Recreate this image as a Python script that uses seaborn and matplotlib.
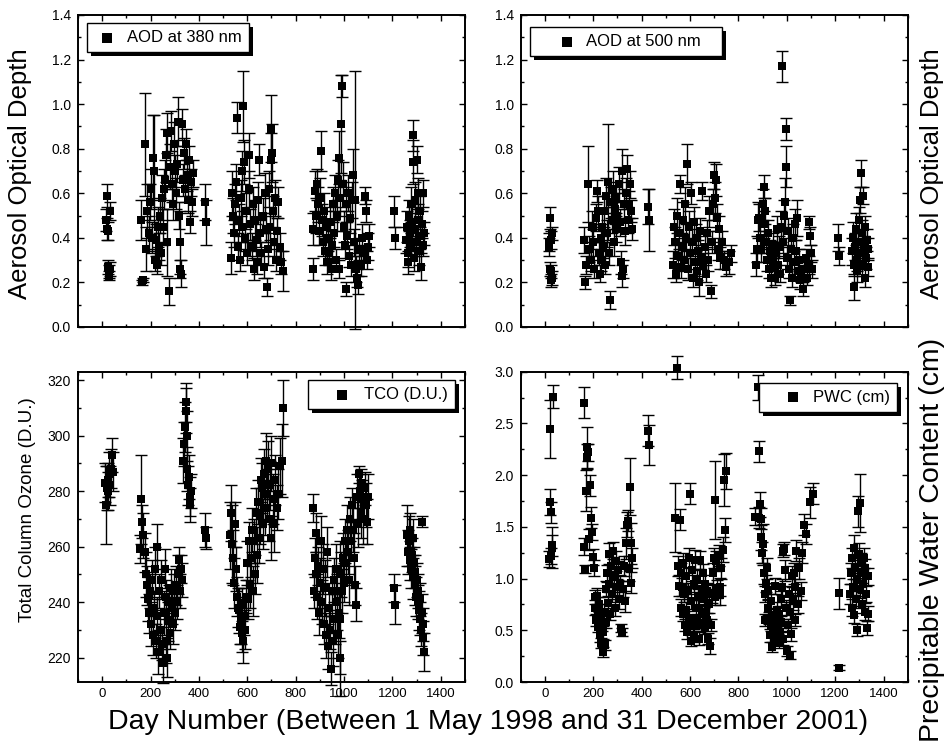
import matplotlib
matplotlib.use("Agg")
import numpy as np
import pandas as pd
import seaborn as sns
import matplotlib.pyplot as plt
from matplotlib import font_manager
from matplotlib.ticker import MultipleLocator, FormatStrFormatter
from matplotlib.patches import Rectangle

# ---------------- data ----------------
# Panel 1: AOD at 380 nm
day_380 = [16, 18, 20, 22, 33, 26, 28, 30, 32,
           160, 164, 168, 177, 182, 187, 192, 197, 202, 207,
           211, 214, 218, 222, 226, 230, 234, 238, 242, 246,
           250, 254, 258, 262, 266, 270, 276, 280, 284, 288,
           292, 296, 300, 304, 308, 312, 316, 320, 323, 326,
           330, 334, 338, 342, 346, 350, 354, 358, 362, 366,
           370, 375,
           425, 430,
           532, 536, 540, 544, 548, 552, 556, 560, 564, 568,
           572, 576, 580, 584, 588, 592, 596, 600, 605, 609,
           613, 618, 622, 627, 632, 636, 641, 645, 650, 654,
           658, 663, 668, 672, 676, 680, 684, 688, 692, 696,
           699, 702, 706, 710, 714, 718, 722, 728, 734, 740,
           746,
           870, 873, 880, 885, 889, 893, 897, 901, 906, 910,
           914, 918, 922, 926, 930, 934, 938, 942, 947, 951,
           955, 959, 963, 967, 971, 975, 978, 981, 985, 989,
           992, 995, 999, 1003, 1007, 1009, 1013, 1017, 1021, 1025,
           1029, 1033, 1037, 1041, 1047, 1050, 1054, 1058, 1062, 1068,
           1074, 1080, 1088, 1092, 1096, 1100, 1105,
           1208, 1212,
           1256, 1260, 1263, 1266, 1269, 1272, 1275, 1278, 1281, 1284,
           1286, 1289, 1292, 1295, 1298, 1301, 1304, 1307, 1310, 1313,
           1316, 1319, 1322, 1325, 1328, 1331]
aod_380 = [.48, .44, .59, .43, .52, .27, .25, .23, .26,
           .48, .20, .21, .82, .35, .52, .42, .56, .62, .40,
           .76, .70, .30, .39, .28, .45, .36, .50, .33, .58,
           .45, .62, .66, .77, .87, .38, .16, .72, .88, .64,
           .55, .82, .70, .60, .73, .92, .50, .38, .26, .24,
           .91, .66, .78, .62, .82, .68, .57, .75, .47, .65,
           .56, .69,
           .56, .47,
           .31, .60, .50, .42, .55, .65, .94, .36, .48, .30,
           .58, .45, .70, .99, .74, .40, .52, .33, .62, .77,
           .46, .36, .55, .26, .48, .39, .29, .57, .75, .42,
           .33, .50, .27, .60, .44, .18, .35, .62, .45, .89,
           .75, .78, .52, .38, .58, .30, .43, .56, .36, .29,
           .25,
           .26, .44, .61, .50, .64, .55, .43, .58, .79, .48,
           .38, .52, .34, .45, .29, .40, .33, .47, .26, .37,
           .55, .42, .60, .30, .50, .66, .76, .26, .58, .91,
           1.08, .64, .45, .37, .55, .17, .41, .60, .32, .49,
           .28, .57, .68, .38, .57, .26, .22, .19, .35, .28,
           .40, .33, .59, .52, .30, .36, .41,
           .52, .40,
           .39, .45, .33, .29, .50, .42, .36, .55, .47, .86,
           .74, .31, .44, .57, .38, .75, .60, .48, .34, .52,
           .41, .27, .46, .37, .60, .42]
err_380 = [.05, .05, .05, .04, .04, .03, .03, .02, .03,
           .09, .01, .01, .23, .10, .12, .08, .08, .09, .07,
           .19, .25, .05, .07, .04, .09, .06, .08, .05, .10,
           .08, .09, .09, .12, .09, .15, .06, .10, .09, .08,
           .07, .10, .07, .07, .08, .11, .06, .14, .04, .06,
           .07, .07, .07, .06, .07, .07, .06, .06, .05, .06,
           .06, .06,
           .08, .10,
           .07, .10, .08, .06, .09, .08, .07, .06, .07, .05,
           .08, .07, .09, .16, .10, .06, .08, .05, .08, .10,
           .07, .06, .08, .05, .09, .07, .05, .08, .07, .06,
           .05, .08, .05, .09, .06, .04, .07, .08, .06, .15,
           .12, .13, .07, .06, .08, .05, .06, .07, .06, .05,
           .09,
           .05, .07, .09, .08, .07, .08, .06, .09, .09, .07,
           .06, .08, .06, .07, .05, .06, .05, .07, .05, .06,
           .08, .06, .08, .05, .07, .09, .12, .04, .08, .22,
           .05, .10, .07, .06, .08, .03, .06, .08, .05, .07,
           .05, .08, .12, .06, .58, .06, .04, .04, .05, .05,
           .06, .04, .04, .05, .04, .06, .05,
           .07, .05,
           .06, .07, .06, .05, .07, .06, .06, .08, .07, .07,
           .10, .06, .07, .08, .06, .06, .07, .07, .06, .07,
           .06, .06, .06, .05, .06, .05]

# Panel 2: AOD at 500 nm
day_500 = [15, 18, 21, 24, 28, 22, 25, 27, 30,
           160, 165, 170, 179, 184, 190, 196, 200, 205, 210,
           214, 218, 222, 226, 230, 234, 238, 242, 246, 250,
           254, 258, 262, 265, 268, 272, 276, 280, 284, 288,
           292, 296, 300, 305, 310, 314, 317, 320, 323, 327,
           331, 335, 340, 344, 348, 352, 356, 360,
           425, 430,
           531, 535, 539, 543, 547, 551, 555, 559, 563, 567,
           571, 575, 579, 583, 589, 593, 597, 601, 605, 609,
           613, 617, 621, 625, 629, 633, 637, 641, 645, 650,
           655, 660, 665, 670, 675, 680, 685, 690, 695, 700,
           704, 708, 712, 716, 720, 726, 732, 740, 748, 760,
           770,
           872, 876, 880, 886, 890, 895, 900, 904, 907, 911,
           915, 919, 923, 927, 931, 935, 939, 943, 947, 951,
           955, 959, 963, 967, 971, 975, 979, 983, 987, 991,
           995, 997, 1000, 1004, 1008, 1014, 1018, 1022, 1026, 1030,
           1034, 1038, 1041, 1045, 1050, 1055, 1060, 1066, 1072, 1078,
           1084, 1090, 1094, 1098, 1102, 1106,
           1210, 1214,
           1268, 1272, 1276, 1280, 1283, 1286, 1289, 1292, 1295, 1298,
           1301, 1304, 1307, 1310, 1313, 1316, 1319, 1322, 1325, 1328,
           1331, 1334, 1337]
aod_500 = [.38, .36, .49, .39, .42, .26, .25, .21, .22,
           .39, .20, .28, .64, .35, .30, .45, .38, .26, .49,
           .61, .52, .33, .24, .40, .30, .45, .36, .52, .28,
           .59, .42, .65, .33, .12, .56, .48, .62, .38, .53,
           .44, .58, .50, .64, .47, .29, .70, .23, .26, .55,
           .43, .60, .71, .48, .55, .64, .52, .44,
           .54, .48,
           .28, .45, .38, .24, .50, .32, .42, .64, .27, .36,
           .48, .30, .55, .40, .73, .26, .45, .33, .60, .38,
           .22, .47, .29, .40, .25, .34, .20, .43, .31, .61,
           .28, .36, .24, .42, .30, .52, .16, .38, .55, .68,
           .58, .66, .49, .35, .44, .31, .38, .30, .27, .29,
           .33,
           .28, .35, .48, .49, .40, .35, .55, .46, .63, .52,
           .38, .30, .42, .26, .34, .22, .31, .37, .27, .22,
           .33, .44, .28, .36, .24, .45, 1.17, .38, .50, .56,
           .89, .72, .31, .43, .26, .12, .35, .22, .40, .29,
           .46, .34, .49, .25, .30, .21, .24, .17, .26, .31,
           .22, .28, .47, .41, .33, .26,
           .40, .32,
           .34, .40, .28, .18, .36, .44, .30, .25, .38, .48,
           .33, .57, .69, .42, .28, .59, .36, .22, .45, .31,
           .39, .27, .35]
err_500 = [.04, .04, .05, .04, .03, .03, .03, .03, .03,
           .06, .03, .04, .17, .06, .05, .07, .06, .04, .06,
           .05, .07, .05, .04, .06, .05, .07, .05, .07, .04,
           .08, .06, .26, .05, .04, .07, .06, .08, .06, .07,
           .06, .07, .06, .08, .06, .05, .10, .05, .04, .07,
           .06, .07, .06, .06, .06, .06, .05, .05,
           .08, .14,
           .06, .08, .07, .04, .08, .06, .07, .04, .05, .06,
           .08, .05, .08, .06, .09, .05, .07, .05, .05, .06,
           .04, .07, .05, .06, .04, .05, .06, .06, .05, .04,
           .05, .05, .04, .06, .05, .07, .03, .05, .07, .06,
           .07, .07, .06, .05, .06, .05, .05, .04, .04, .05,
           .04,
           .05, .06, .08, .06, .07, .06, .07, .06, .05, .06,
           .05, .05, .06, .04, .05, .04, .05, .05, .04, .03,
           .05, .06, .04, .05, .04, .07, .07, .05, .07, .11,
           .05, .09, .05, .06, .04, .02, .05, .04, .06, .05,
           .07, .05, .08, .04, .05, .04, .04, .03, .04, .04,
           .03, .04, .03, .04, .04, .04,
           .06, .04,
           .06, .07, .05, .06, .06, .07, .05, .05, .06, .06,
           .05, .06, .06, .06, .05, .04, .05, .04, .05, .05,
           .05, .04, .05]

# Panel 3: Total column ozone (D.U.)
day_tco = [10, 14, 18, 22, 26, 30, 34, 38, 42, 45,
           156, 162, 165, 170, 175, 180, 185, 190, 194, 198,
           202, 206, 210, 214, 218, 222, 225, 228, 232, 236,
           240, 244, 248, 252, 255, 258, 262, 265, 268, 272,
           276, 280, 284, 288, 292, 296, 300, 304, 308, 312,
           316, 320, 324, 330,
           336, 339, 342, 345, 348, 350, 352, 355, 358, 361,
           364, 366,
           425, 430,
           530, 534, 537, 541, 545, 548,
           552, 556, 560, 564, 568, 572, 576, 580, 584, 588, 592, 596,
           600, 604, 608, 612, 616, 620, 624, 628, 632, 636, 640, 644,
           648, 652, 656, 660, 664, 668, 672, 676, 680, 684, 688, 692,
           696, 700, 705, 710, 716, 722, 728, 737, 745, 748,
           870, 874, 878, 882, 886, 890, 894, 898, 902, 906,
           910, 914, 918, 922, 926, 930, 934, 938, 942, 946,
           950, 954, 958, 962, 966, 970, 974, 978, 982, 985,
           988, 992, 996, 1000, 1004, 1008, 1012, 1016, 1020, 1024,
           1028, 1032, 1036, 1040, 1044, 1048, 1052, 1056, 1060, 1064,
           1068, 1072, 1076, 1080, 1085, 1090, 1095, 1100,
           1208, 1212,
           1262, 1265, 1268, 1271, 1274, 1277, 1280, 1283, 1286, 1289,
           1292, 1295, 1298, 1301, 1304, 1307, 1310, 1313, 1316, 1319,
           1322, 1324, 1326, 1328, 1330]
tco = [283, 275, 281, 284, 280, 286, 282, 288, 293, 287,
       259, 277, 269, 264, 258, 250, 246, 241, 236, 244,
       232, 248, 228, 238, 252, 226, 260, 235, 222, 244,
       230, 248, 225, 218, 236, 252, 226, 242, 220, 233,
       240, 229, 245, 238, 232, 244, 236, 246, 240, 250,
       255, 244, 252, 248,
       291, 297, 303, 309, 312, 300, 288, 282, 285, 278,
       275, 280,
       266, 263,
       264, 272, 261, 256, 247, 268,
       252, 242, 238, 237, 231, 233, 229, 239, 226, 235, 230, 242,
       254, 241, 262, 246, 256, 266, 244, 262, 250, 272, 257, 276,
       263, 271, 284, 281, 268, 286, 274, 291, 279, 288, 270, 282,
       263, 290, 277, 268, 284, 274, 279, 289, 291, 310,
       274, 244, 256, 250, 265, 242, 253, 236, 247, 262,
       240, 252, 232, 245, 228, 258, 224, 238, 230, 216,
       244, 226, 248, 234, 252, 240, 228, 236, 220, 234,
       250, 244, 256, 247, 262, 254, 266, 258, 248, 270,
       262, 275, 266, 256, 246, 239, 278, 268, 286, 280,
       272, 283, 277, 270, 281, 275, 269, 278,
       245, 239,
       264, 258, 262, 255, 266, 252, 257, 249, 263, 254,
       246, 251, 242, 248, 240, 244, 237, 241, 234, 230,
       236, 269, 227, 232, 222]
err_tco = [7, 14, 8, 6, 7, 8, 7, 7, 6, 7,
           5, 16, 6, 8, 7, 8, 7, 8, 7, 6,
           8, 7, 7, 6, 8, 6, 8, 7, 8, 6,
           7, 7, 6, 7, 8, 7, 8, 6, 7, 7,
           6, 6, 7, 6, 7, 6, 6, 7, 6, 7,
           5, 6, 5, 6,
           8, 8, 9, 8, 7, 9, 8, 7, 8, 7,
           6, 6,
           6, 4,
           12, 10, 14, 10, 9, 8,
           8, 7, 7, 8, 6, 8, 7, 6, 8, 7, 7, 6,
           8, 7, 7, 8, 7, 8, 9, 8, 7, 9, 10, 8,
           9, 10, 8, 9, 9, 9, 10, 10, 9, 10, 8, 9,
           8, 10, 9, 10, 9, 8, 9, 10, 13, 10,
           5, 6, 7, 8, 7, 8, 7, 8, 9, 9,
           8, 9, 7, 10, 8, 9, 8, 9, 7, 6,
           9, 9, 8, 9, 9, 10, 8, 9, 6, 28,
           8, 8, 9, 7, 8, 8, 9, 8, 9, 8,
           7, 6, 8, 9, 7, 6, 8, 8, 3, 6,
           9, 5, 7, 9, 6, 8, 8, 8,
           5, 7,
           11, 8, 9, 7, 6, 7, 6, 8, 7, 6,
           7, 6, 7, 6, 6, 6, 7, 6, 6, 6,
           7, 2, 6, 6, 7]

# Panel 4: Precipitable water content (cm)
day_pwc = [18, 20, 22, 24, 26, 28, 30, 32,
           160, 163, 166, 170, 173, 176, 180, 184, 188, 192,
           196, 200, 203, 206, 209, 212, 215, 218, 221, 224,
           227, 230, 233, 236, 239, 242, 245, 248, 251, 254,
           257, 260, 263, 266, 270, 274, 278, 282, 286, 290,
           294, 298, 302, 306, 310, 315, 318, 322, 326, 330,
           334, 338, 342, 346, 350, 354, 358, 362,
           428, 432,
           538, 545, 552, 555, 559, 561, 564, 567, 570, 573,
           576, 579, 582, 585, 588, 591, 594, 597, 600, 603,
           606, 609, 612, 615, 618, 621, 624, 627, 630, 633,
           636, 639, 642, 645, 648, 651, 654, 657, 660, 663,
           666, 669, 672, 675, 678, 683, 687, 690, 694, 698,
           702, 705, 709, 713, 719, 722, 726, 730, 741, 744,
           750, 738,
           870, 880, 884, 887, 889, 893, 895, 899, 903, 906,
           909, 912, 915, 918, 921, 924, 927, 930, 933, 936,
           939, 942, 945, 948, 951, 954, 957, 960, 963, 966,
           969, 972, 975, 978, 981, 984, 986, 989, 992, 996,
           1000, 1004, 1008, 1012, 1015, 1018, 1021, 1024, 1028, 1032,
           1036, 1040, 1046, 1052, 1058, 1064, 1070, 1080, 1095, 1110,
           1214, 1216,
           1262, 1265, 1268, 1271, 1274, 1277, 1280, 1283, 1286, 1289,
           1292, 1295, 1298, 1301, 1304, 1307, 1310, 1313, 1316, 1319,
           1322, 1325, 1328, 1331, 1334, 1337]
pwc = [1.19, 2.45, 1.74, 1.64, 1.22, 1.30, 1.32, 2.76,
       2.70, 1.31, 1.09, 1.85, 2.27, 2.18, 2.22, 1.38, 1.90, 1.59,
       1.45, 1.21, 1.10, .82, .72, .60, .83, .65, .53, .75,
       .45, .62, .38, .55, .29, .48, .68, .36, .90, .58,
       1.05, .76, 1.24, .95, .66, 1.12, .85, 1.27, 1.02, .72,
       1.17, .92, 1.08, .80, .95, .52, .48, .90, 1.12, .78,
       1.34, 1.52, 1.56, 1.10, 1.89, 1.34, .96, 1.20,
       2.43, 2.29,
       1.59, 3.04, 1.12, .93, 1.57, 1.05, .72, .92, 1.15, .66,
       .85, .55, 1.02, .70, .48, .88, 1.20, .62, 1.82, .40,
       .78, 1.08, .55, .95, .45, 1.18, .72, .60, 1.00, .82,
       .42, .72, 1.18, .55, .90, .66, 1.05, .80, .52, .95,
       .68, .88, .60, .42, .75, .35, .55, .85, 1.05, 1.20,
       .82, 1.76, 1.17, .90, 1.22, .92, .84, 1.10, 1.95, 1.47,
       2.04, 1.28,
       1.60, 2.85, 1.59, 2.23, 1.72, 1.58, 1.40, 1.25, 1.33, 1.05,
       .60, .85, .95, 1.10, .72, .88, .62, .45, .78, .55,
       .34, .50, .65, .42, .93, .60, .45, .70, .52, .38,
       .66, .48, .80, .58, .92, .42, 1.27, 1.29, 1.08, .72,
       .30, .55, .85, .26, .68, .46, 1.02, .78, 1.05, .60,
       .92, 1.27, .75, 1.10, .88, 1.25, 1.52, 1.43, 1.74, 1.82,
       .86, .14,
       .85, 1.05, .72, 1.20, .92, 1.30, .65, 1.10, .80, 1.00,
       .50, 1.65, 1.24, .90, 1.73, 1.15, .75, 1.05, .95, 1.20,
       .68, 1.10, .85, .52, .66, 1.02]
err_pwc = [.08, .28, .13, .10, .08, .20, .10, .11,
           .15, .08, .04, .20, .20, .12, .08, .10, .10, .10,
           .08, .08, .08, .07, .07, .06, .08, .06, .05, .07,
           .06, .06, .05, .06, .05, .06, .07, .05, .08, .06,
           .08, .07, .10, .08, .06, .09, .08, .08, .10, .08,
           .10, .08, .09, .09, .08, .04, .04, .08, .10, .10,
           .15, .12, .10, .12, .28, .20, .10, .10,
           .15, .19,
           .33, .11, .10, .10, .10, .10, .08, .09, .10, .07,
           .08, .06, .09, .07, .06, .08, .10, .07, .10, .05,
           .07, .10, .06, .08, .06, .10, .07, .06, .09, .08,
           .06, .07, .09, .06, .08, .07, .09, .08, .06, .08,
           .07, .08, .07, .05, .08, .08, .06, .09, .10, .10,
           .08, .38, .10, .09, .10, .09, .10, .10, .25, .12,
           .17, .12,
           .08, .12, .10, .10, .12, .10, .12, .10, .20, .10,
           .06, .08, .08, .10, .07, .08, .06, .06, .07, .06,
           .05, .06, .07, .05, .08, .06, .05, .07, .06, .05,
           .07, .06, .08, .06, .08, .06, .06, .06, .10, .07,
           .05, .06, .08, .04, .07, .06, .10, .08, .10, .06,
           .08, .10, .08, .10, .09, .10, .10, .10, .15, .10,
           .15, .02,
           .10, .10, .08, .10, .08, .12, .08, .10, .08, .10,
           .06, .15, .10, .09, .28, .10, .08, .09, .09, .10,
           .08, .09, .08, .07, .07, .08]

labels = ["AOD at 380 nm", "AOD at 500 nm", "TCO (D.U.)", "PWC (cm)"]
xticks = [0, 200, 400, 600, 800, 1000, 1200, 1400]

# ---------------- style ----------------
sns.set_theme(style="ticks")
names = {f.name for f in font_manager.fontManager.ttflist}
NARROW = "Liberation Sans Narrow" in names
plt.rcParams["font.family"] = ["Liberation Sans", "DejaVu Sans"]
plt.rcParams.update({"text.color": "black", "axes.labelcolor": "black",
                     "xtick.color": "black", "ytick.color": "black",
                     "axes.edgecolor": "black"})
narrow_family = ["Liberation Sans Narrow", "Liberation Sans", "DejaVu Sans"] if NARROW else ["Liberation Sans", "DejaVu Sans"]

fig = plt.figure(figsize=(9.45, 7.52), dpi=100)
W, H = 945.0, 752.0
ax_tl = fig.add_axes([78 / W, 1 - 327 / H, 387 / W, 312 / H])
ax_tr = fig.add_axes([520.7 / W, 1 - 327 / H, 387 / W, 312 / H])
ax_bl = fig.add_axes([78 / W, 1 - 682 / H, 387 / W, 310.3 / H])
ax_br = fig.add_axes([520.7 / W, 1 - 682 / H, 387 / W, 310.3 / H])


def panel(ax, days, vals, errs, label):
    ax.errorbar(days, vals, yerr=errs, fmt="none", ecolor="black",
                elinewidth=1.0, capsize=4, capthick=1.0, clip_on=False, zorder=2)
    df = pd.DataFrame({"day": days, "val": vals})
    sns.scatterplot(data=df, x="day", y="val", marker="s", s=38, color="black",
                    edgecolor="black", linewidth=0, ax=ax, label=label,
                    zorder=3, clip_on=False, legend=False)
    ax.set_xlim(-100, 1500)
    ax.set_xticks(xticks)
    ax.xaxis.set_minor_locator(MultipleLocator(100))
    ax.tick_params(which="both", direction="in", top=True, right=True,
                   width=1.0, color="black", labelcolor="black", labelsize=10, pad=5)
    ax.tick_params(which="major", length=4.5)
    ax.tick_params(which="minor", length=2.5)
    for s in ax.spines.values():
        s.set_linewidth(1.4)
        s.set_color("black")
    ax.set_xlabel("")
    ax.set_ylabel("")


panel(ax_tl, day_380, aod_380, err_380, labels[0])
panel(ax_tr, day_500, aod_500, err_500, labels[1])
panel(ax_bl, day_tco, tco, err_tco, labels[2])
panel(ax_br, day_pwc, pwc, err_pwc, labels[3])

for ax in (ax_tl, ax_tr):
    ax.set_ylim(0, 1.4)
    ax.yaxis.set_major_locator(MultipleLocator(0.2))
    ax.yaxis.set_minor_locator(MultipleLocator(0.1))
    ax.yaxis.set_major_formatter(FormatStrFormatter("%.1f"))
    ax.tick_params(axis="x", labelbottom=False)

ax_bl.set_ylim(211.2, 323)
ax_bl.yaxis.set_major_locator(MultipleLocator(20))
ax_bl.yaxis.set_minor_locator(MultipleLocator(10))
ax_br.set_ylim(0, 3.0)
ax_br.yaxis.set_major_locator(MultipleLocator(0.5))
ax_br.yaxis.set_minor_locator(MultipleLocator(0.25))
ax_br.yaxis.set_major_formatter(FormatStrFormatter("%.1f"))

xt_size = 11 if NARROW else 9.5
for ax in (ax_bl, ax_br):
    for t in ax.get_xticklabels():
        t.set_family(narrow_family)
        t.set_fontsize(xt_size)
    ax.tick_params(axis="x", pad=4)

# y labels
ax_tl.set_ylabel("Aerosol Optical Depth", fontsize=18.5)
ax_tl.yaxis.set_label_coords(-0.150, 0.49)
ax_tr.yaxis.set_label_position("right")
ax_tr.set_ylabel("Aerosol Optical Depth", fontsize=18.5)
ax_tr.yaxis.set_label_coords(1.062, 0.491)
ax_bl.set_ylabel("Total Column Ozone (D.U.)", fontsize=13.5)
ax_bl.yaxis.set_label_coords(-0.130, 0.554)
ax_br.yaxis.set_label_position("right")
ax_br.set_ylabel("Precipitable Water Content (cm)", fontsize=20.5)
ax_br.yaxis.set_label_coords(1.063, 0.458)
for ax in (ax_tl, ax_tr, ax_bl, ax_br):
    ax.yaxis.label.set_va("center")
    ax.yaxis.label.set_ha("center")
    ax.yaxis.label.set_color("black")

fig.text(0.516, 1 - 722 / H, "Day Number (Between 1 May 1998 and 31 December 2001)",
         ha="center", va="center", fontsize=(25 if NARROW else 20.5),
         family=narrow_family, color="black")

# legends
leg_specs = [
    (ax_tl, "upper left", (0.0233, 0.974), 1.5, 0.5, labels[0]),
    (ax_tr, "upper left", (0.024, 0.9615), 3.66, -0.69, labels[1] + "   "),
    (ax_bl, "upper right", (0.974, 0.973), 3.3, -0.33, labels[2]),
    (ax_br, "upper right", (0.972, 0.964), 3.18, -0.39, labels[3]),
]
legends = []
for ax, loc, anchor, hl, tp, text in leg_specs:
    handles, _ = ax.get_legend_handles_labels()
    leg = ax.legend(handles[:1], [text], loc=loc, bbox_to_anchor=anchor,
                    borderaxespad=0, frameon=True, fancybox=False, framealpha=1,
                    edgecolor="black", fontsize=12, borderpad=0.42,
                    handlelength=hl, handletextpad=tp, scatterpoints=1,
                    markerscale=1.25, labelcolor="black")
    leg.get_frame().set_linewidth(1.0)
    leg.set_zorder(6)
    legends.append((ax, leg))

fig.canvas.draw()
renderer = fig.canvas.get_renderer()
for ax, leg in legends:
    bb = leg.get_frame().get_window_extent(renderer)
    inv = ax.transAxes.inverted()
    (x0, y0) = inv.transform((bb.x0 + 4, bb.y0 - 4))
    (x1, y1) = inv.transform((bb.x1 + 4, bb.y1 - 4))
    ax.add_patch(Rectangle((x0, y0), x1 - x0, y1 - y0, transform=ax.transAxes,
                           facecolor="black", edgecolor="none", zorder=5.5,
                           clip_on=False))

fig.savefig("out.png", dpi=100)
